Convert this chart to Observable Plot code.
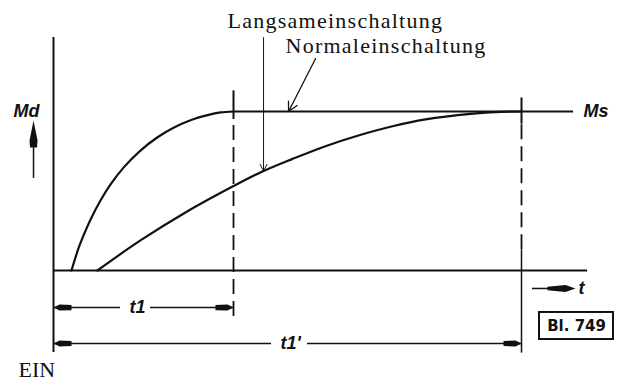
<!DOCTYPE html>
<html>
<head>
<meta charset="utf-8">
<script src="https://cdn.jsdelivr.net/npm/d3@7"></script>
<script src="https://cdn.jsdelivr.net/npm/@observablehq/plot@0.6"></script>
<style>
  html, body { margin: 0; padding: 0; background: #fff; }
  svg { display: block; }
</style>
</head>
<body>
<div id="chart"></div>
<script>
// time axis t (t1 = 1), torque axis M (Ms = 1)
const t1 = 1.0;
const t1p = 2.6;
const Ms = 1.0;

// Normaleinschaltung
const normalT = [0.1, 0.117, 0.139, 0.167, 0.206, 0.261, 0.317, 0.389, 0.483, 0.578, 0.667, 0.761, 0.856, 0.928, 1.0];
const normalM = [0.0, 0.064, 0.140, 0.221, 0.321, 0.440, 0.541, 0.647, 0.754, 0.838, 0.898, 0.945, 0.977, 0.994, 1.0];

// Langsameinschaltung
const langsamT = [0.244, 0.483, 0.733, 1.0, 1.161, 1.328, 1.511, 1.694, 1.883, 2.067, 2.317, 2.483, 2.6];
const langsamM = [0.0, 0.189, 0.365, 0.531, 0.623, 0.702, 0.782, 0.849, 0.907, 0.950, 0.985, 0.998, 1.0];

// labels
const serifLabels = ["Langsameinschaltung", "Normaleinschaltung", "EIN"];
const serifT = [0.967, 1.289, -0.194];
const serifM = [1.528, 1.371, -0.667];

const symLabels = ["Md", "Ms", "t", "t1", "t1'"];
const symT = [-0.222, 2.944, 2.917, 0.467, 1.317];
const symM = [1.0, 1.0, -0.113, -0.233, -0.459];
const symAnchor = ["start", "start", "start", "middle", "middle"];

const sheetLabel = "Bl. 749";

// dimension lines
const dimM = [-0.233, -0.459];
const dimGapT1 = [0.372, 0.539];
const dimGapT1p = [1.211, 1.411];

const normal = normalT.map((t, i) => ({t, M: normalM[i]}));
const langsam = langsamT.map((t, i) => ({t, M: langsamM[i]}));
const serif = serifLabels.map((s, i) => ({s, t: serifT[i], M: serifM[i]}));
const sym = symLabels.map((s, i) => ({s, t: symT[i], M: symM[i], a: symAnchor[i]}));

function poly(pts) {
  return {draw(c) { c.moveTo(pts[0][0], pts[0][1]); for (const p of pts.slice(1)) c.lineTo(p[0], p[1]); c.closePath(); }};
}
const headRight = poly([[0,0],[-6,-3],[-18,-2.6],[-18,2.6],[-6,3]]);
const headLeft = poly([[0,0],[6,-3],[18,-2.6],[18,2.6],[6,3]]);
const headT = poly([[0,0],[-10,-3.5],[-28,-1.8],[-28,1.8],[-10,3.5]]);
const headUp = poly([[0,0],[-4,20],[-3.5,27],[3.5,27],[4,20]]);

const segs = [
  {t1: 0, t2: dimGapT1[0], M: dimM[0]},
  {t1: dimGapT1[1], t2: t1, M: dimM[0]},
  {t1: 0, t2: dimGapT1p[0], M: dimM[1]},
  {t1: dimGapT1p[1], t2: t1p, M: dimM[1]}
];

const chart = Plot.plot({
  width: 620,
  height: 381,
  margin: 0,
  style: {background: "#fff", overflow: "visible"},
  x: {domain: [0, t1p], range: [53, 521], axis: null},
  y: {domain: [0, Ms], range: [270, 111], axis: null},
  marks: [
    // axes
    Plot.ruleX([0], {y1: -0.516, y2: 1.465, stroke: "#111", strokeWidth: 2}),
    Plot.ruleY([0], {x1: 0, x2: 2.967, stroke: "#111", strokeWidth: 2}),
    // Ms level
    Plot.ruleY([Ms], {x1: t1, x2: 2.889, stroke: "#111", strokeWidth: 2}),
    // t1 marker
    Plot.ruleX([t1], {y1: 0.95, y2: 1.13, stroke: "#111", strokeWidth: 2}),
    Plot.ruleX([t1], {y1: -0.29, y2: 0.95, stroke: "#111", strokeWidth: 1.8, strokeDasharray: "15,7"}),
    // t1' marker
    Plot.ruleX([t1p], {y1: 0.92, y2: 1.085, stroke: "#111", strokeWidth: 2}),
    Plot.ruleX([t1p], {y1: 0.13, y2: 0.92, stroke: "#111", strokeWidth: 1.8, strokeDasharray: "15,7"}),
    Plot.ruleX([t1p], {y1: -0.52, y2: 0.13, stroke: "#111", strokeWidth: 1.5}),
    // curves
    Plot.line(normal, {x: "t", y: "M", curve: "catmull-rom", stroke: "#111", strokeWidth: 2.2}),
    Plot.line(langsam, {x: "t", y: "M", curve: "catmull-rom", stroke: "#111", strokeWidth: 2.2}),
    // pointers
    Plot.arrow([{}], {x1: () => 1.167, y1: () => 1.465, x2: () => 1.167, y2: () => 0.626, stroke: "#111", strokeWidth: 1, headLength: 11, headAngle: 55}),
    Plot.arrow([{}], {x1: () => 1.456, y1: () => 1.333, x2: () => 1.306, y2: () => Ms, stroke: "#111", strokeWidth: 1.3, headLength: 12, headAngle: 55}),
    // dimension lines
    Plot.ruleY(segs, {y: "M", x1: "t1", x2: "t2", stroke: "#111", strokeWidth: 1.5}),
    Plot.dot(dimM.map(M => ({M})), {x: () => 0, y: "M", symbol: headLeft, fill: "#111", stroke: "none"}),
    Plot.dot([{t: t1, M: dimM[0]}, {t: t1p, M: dimM[1]}], {x: "t", y: "M", symbol: headRight, fill: "#111", stroke: "none"}),
    // t arrow
    Plot.ruleY([-0.113], {x1: 2.661, x2: 2.8, stroke: "#111", strokeWidth: 1.5}),
    Plot.dot([{t: 2.9, M: -0.113}], {x: "t", y: "M", symbol: headT, fill: "#111", stroke: "none"}),
    // Md arrow
    Plot.ruleX([-0.111], {y1: 0.579, y2: 0.8, stroke: "#111", strokeWidth: 1.5}),
    Plot.dot([{t: -0.111, M: 0.943}], {x: "t", y: "M", symbol: headUp, fill: "#111", stroke: "none"}),
    // sheet box
    Plot.rect([{}], {x1: () => 2.7, x2: () => 3.111, y1: () => -0.264, y2: () => -0.434, fill: "#fff", stroke: "#111", strokeWidth: 2}),
    Plot.text([sheetLabel], {x: () => 2.906, y: () => -0.349, text: d => d, fontFamily: "DejaVu Sans", fontWeight: "bold", fontSize: 15, fill: "#111", textAnchor: "middle", lineAnchor: "middle"}),
    // labels
    Plot.text(serif, {x: "t", y: "M", text: "s", fontFamily: "Liberation Serif", fontSize: 22, fill: "#111", textAnchor: "start", lineAnchor: "bottom"}),
    Plot.text(sym.filter(d => d.a === "start"), {x: "t", y: "M", text: "s", fontFamily: "Liberation Sans", fontStyle: "italic", fontWeight: "bold", fontSize: 18, fill: "#111", textAnchor: "start", lineAnchor: "middle"}),
    Plot.text(sym.filter(d => d.a === "middle"), {x: "t", y: "M", text: "s", fontFamily: "Liberation Sans", fontStyle: "italic", fontWeight: "bold", fontSize: 18, fill: "#111", textAnchor: "middle", lineAnchor: "middle"})
  ]
});
// widen the serif lettering to match the original typesetting
chart.querySelectorAll('g[font-family="Liberation Serif"] text').forEach(el => {
  el.setAttribute("letter-spacing", el.textContent.length > 5 ? "1.25" : "0");
});
document.getElementById("chart").appendChild(chart);
</script>
</body>
</html>
